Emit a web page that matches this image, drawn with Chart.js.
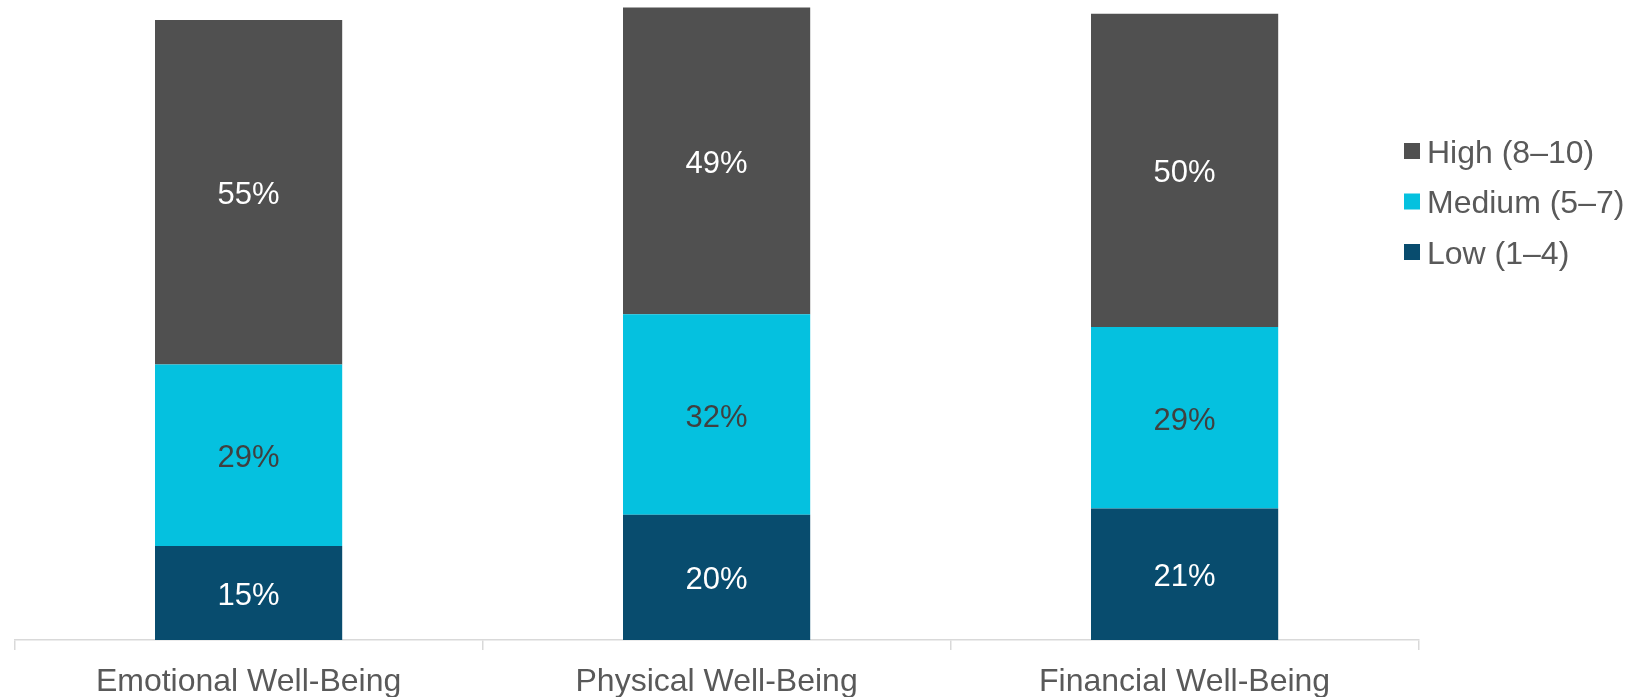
<!DOCTYPE html>
<html>
<head>
<meta charset="utf-8">
<script src="https://cdn.jsdelivr.net/npm/chart.js@4.4.1/dist/chart.umd.min.js"></script>
<style>
  html, body { margin: 0; padding: 0; background: #ffffff; }
  #wrap { position: relative; width: 1632px; height: 697px; }
</style>
</head>
<body>
<div id="wrap"><canvas id="c" width="1632" height="697"></canvas></div>
<script>
const categories = ["Emotional Well-Being", "Physical Well-Being", "Financial Well-Being"];
const seriesNames = ["Low (1–4)", "Medium (5–7)", "High (8–10)"];
const lowValues = [15, 20, 21];
const mediumValues = [29, 32, 29];
const highValues = [55, 49, 50];
const seriesColors = ["#084C6E", "#05C1DF", "#505050"];
const labelColors = ["#ffffff", "#404040", "#ffffff"];

const FONT = "'Liberation Sans', Arial, sans-serif";

const dataLabels = {
  id: 'dataLabels',
  afterDatasetsDraw(chart) {
    const ctx = chart.ctx;
    ctx.save();
    ctx.font = "31px " + FONT;
    ctx.textAlign = 'center';
    ctx.textBaseline = 'middle';
    chart.data.datasets.forEach((ds, di) => {
      const meta = chart.getDatasetMeta(di);
      meta.data.forEach((bar, i) => {
        const p = bar.getProps(['x', 'y', 'base'], true);
        ctx.fillStyle = labelColors[di];
        ctx.fillText(ds.data[i] + '%', p.x, (p.y + p.base) / 2 + 3.5);
      });
    });
    ctx.restore();
  }
};

const sideLegend = {
  id: 'sideLegend',
  afterDraw(chart) {
    const ctx = chart.ctx;
    ctx.save();
    ctx.font = "32px " + FONT;
    ctx.textBaseline = 'middle';
    ctx.textAlign = 'left';
    const ds = chart.data.datasets;
    const x = 1404, size = 16, rowGap = 50.5, y0 = 151;
    for (let k = 0; k < ds.length; k++) {
      const di = ds.length - 1 - k;
      const cy = y0 + k * rowGap;
      ctx.fillStyle = ds[di].backgroundColor;
      ctx.fillRect(x, cy - size / 2, size, size);
      ctx.fillStyle = '#595959';
      ctx.fillText(ds[di].label, x + 23, cy + 3);
    }
    ctx.restore();
  }
};

new Chart(document.getElementById('c'), {
  type: 'bar',
  data: {
    labels: categories,
    datasets: [
      { label: seriesNames[0], data: lowValues, backgroundColor: seriesColors[0] },
      { label: seriesNames[1], data: mediumValues, backgroundColor: seriesColors[1] },
      { label: seriesNames[2], data: highValues, backgroundColor: seriesColors[2] }
    ]
  },
  options: {
    responsive: false,
    animation: false,
    layout: { padding: { left: 14.6, right: 213.4, top: 0, bottom: 0 } },
    datasets: { bar: { categoryPercentage: 1.0, barPercentage: 0.4, borderWidth: 0 } },
    plugins: { legend: { display: false }, tooltip: { enabled: false } },
    scales: {
      x: {
        stacked: true,
        grid: { display: true, drawOnChartArea: false, offset: true, tickLength: 10, color: '#d9d9d9', lineWidth: 1.5 },
        border: { display: true, color: '#d9d9d9', width: 1.5 },
        ticks: { color: '#595959', font: { family: FONT, size: 32 }, padding: 13, maxRotation: 0, autoSkip: false },
        afterFit(scale) { scale.height = 57; }
      },
      y: {
        stacked: true,
        display: false,
        min: 0,
        max: 102.2
      }
    }
  },
  plugins: [dataLabels, sideLegend]
});
</script>
</body>
</html>
